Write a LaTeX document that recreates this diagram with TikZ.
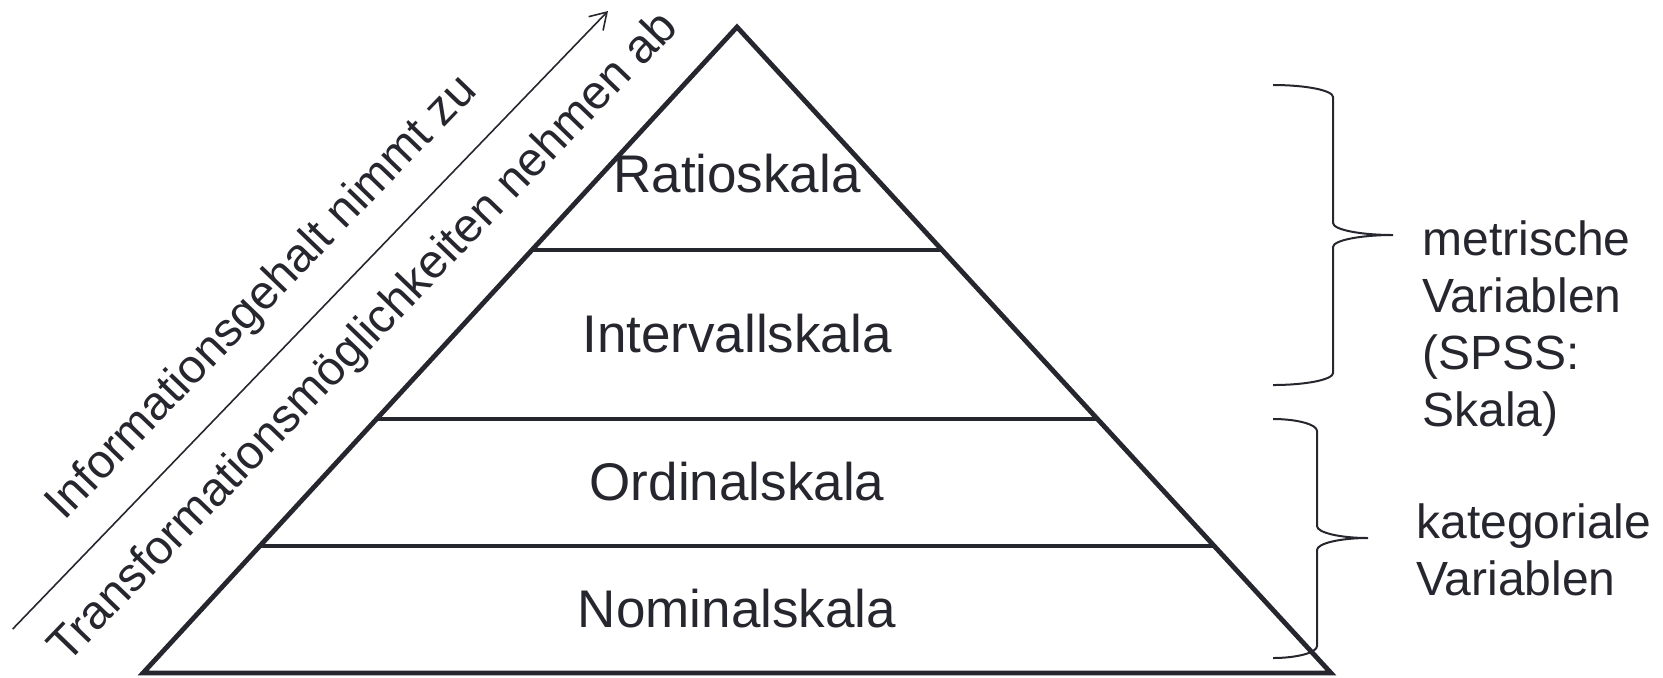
\documentclass[tikz,border=0pt]{standalone}
\usepackage{fontspec}
\setmainfont{Liberation Sans}
\usetikzlibrary{arrows.meta, calc}
\definecolor{skalaink}{RGB}{38,38,46}
\tikzset{
  %% ---- lines ----
  pyramid/.style   = {draw=skalaink, line width=2.4pt, line join=miter},
  layer/.style     = {draw=skalaink, line width=2.4pt},
  infoarrow/.style = {-{Straight Barb[length=8pt, width=10pt]},
                      line width=0.8pt, color=skalaink},
  bracket/.style   = {draw=skalaink, line width=1pt},
  %% ---- text ----
  levellabel/.style = {font=\fontsize{26.5}{32}\selectfont,
                       text=skalaink, inner sep=0pt},
  sidelabel/.style  = {font=\fontsize{24}{28.5}\selectfont,
                       text=skalaink, inner sep=0pt, align=left},
  slopelabel/.style = {font=\fontsize{23.75}{28}\selectfont,
                       text=skalaink, inner sep=0pt, rotate=46.07},
}
\begin{document}
\begin{tikzpicture}[x=0.5pt, y=-0.5pt]
\useasboundingbox (0,0) rectangle (1663,677);

% Pyramid outline
\coordinate (apex) at (737,27);
\coordinate (bl)   at (143,673);
\coordinate (br)   at (1331,673);
\draw[pyramid] (apex) -- (bl) -- (br) -- cycle;

% Borders between the levels
\draw[layer] ($(apex)!0.3452!(bl)$) -- ($(apex)!0.3452!(br)$);
\draw[layer] ($(apex)!0.6068!(bl)$) -- ($(apex)!0.6068!(br)$);
\draw[layer] ($(apex)!0.8034!(bl)$) -- ($(apex)!0.8034!(br)$);

% Level names
\node[levellabel, anchor=base] (ratio)    at (737,192) {Ratioskala};
\node[levellabel, anchor=base] (interval) at (737,352) {Intervallskala};
\node[levellabel, anchor=base] (ordinal)  at (737,500) {Ordinalskala};
\node[levellabel, anchor=base] (nominal)  at (737,627) {Nominalskala};

% Arrow along the left side with its two texts
\coordinate (atail) at (12.7,629);
\coordinate (atip)  at (608,11);
\draw[infoarrow] (atail) -- (atip);
\node[slopelabel, anchor=base] (info)  at (271.5,306.8)
  {Informationsgehalt nimmt zu};
\node[slopelabel, anchor=base] (trans) at (373.3,346.9)
  {Transformationsmöglichkeiten nehmen ab};

% Brace for the metric scales
\draw[bracket] (1273,85) .. controls (1306,85) and (1333,90.4) .. (1333,97)
  -- (1333,223) .. controls (1333,229.6) and (1360,235) .. (1393,235)
  (1393,235) .. controls (1360,235) and (1333,240.4) .. (1333,247)
  -- (1333,373) .. controls (1333,379.6) and (1306,385) .. (1273,385);

% Brace for the categorial scales
\draw[bracket] (1273,419) .. controls (1297,419) and (1317,424.4) .. (1317,431)
  -- (1317,526) .. controls (1317,532.6) and (1340,538) .. (1368,538)
  (1368,538) .. controls (1340,538) and (1317,543.4) .. (1317,550)
  -- (1317,646) .. controls (1317,652.6) and (1297,658) .. (1273,658);

% Group names (base anchor sits on the last line)
\node[sidelabel, anchor=base west] (metric) at (1422,426)
  {metrische\\Variablen\\(SPSS:\\Skala)};
\node[sidelabel, anchor=base west] (categ)  at (1416,595)
  {kategoriale\\Variablen};

\end{tikzpicture}
\end{document}
